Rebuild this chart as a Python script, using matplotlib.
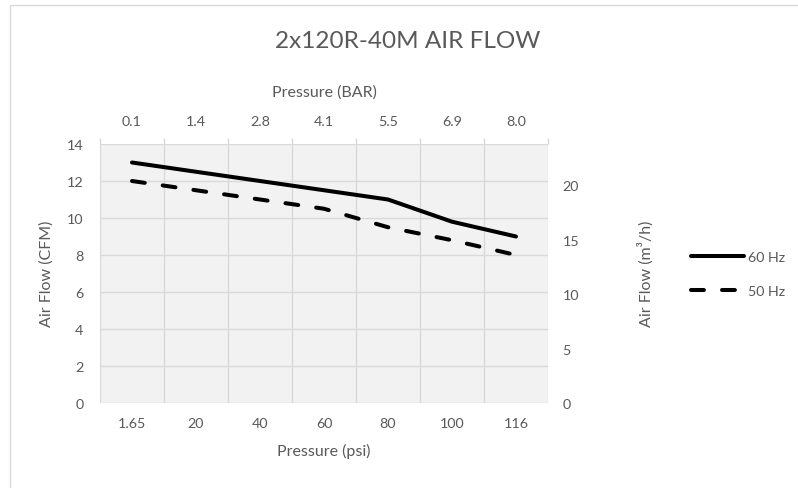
import numpy as np
import matplotlib.pyplot as plt
from matplotlib.patches import Rectangle

plt.rcParams['font.family'] = ['Lato', 'DejaVu Sans']

# data
psi_labels = ['1.65', '20', '40', '60', '80', '100', '116']
bar_labels = ['0.1', '1.4', '2.8', '4.1', '5.5', '6.9', '8.0']
flow_60hz = [13.0, 12.5, 12.0, 11.5, 11.0, 9.8, 9.0]
flow_50hz = [12.0, 11.5, 11.0, 10.5, 9.5, 8.8, 8.0]
cfm_to_m3h = 1.699

grey_text = '#595959'
grid_col = '#D9D9D9'
tick_fs = 10.3
lab_fs = 11.5

fig = plt.figure(figsize=(7.98, 4.89), dpi=100)
ax = fig.add_axes([100/798, 1 - 404/489, 448/798, 259/489])
ax.set_facecolor('#F2F2F2')

x = np.arange(len(psi_labels))
ax.plot(x, flow_60hz, color='black', lw=2.9, solid_capstyle='round', label='60 Hz')
ax.plot(x, flow_50hz, color='black', lw=2.9, dashes=(3.2, 4.5),
        dash_capstyle='round', label='50 Hz')

ax.set_xlim(-0.5, len(x) - 0.5)
ax.set_ylim(0, 14)
ax.set_yticks(range(0, 15, 2))
ax.set_xticks(x)
ax.set_xticklabels(psi_labels)
ax.set_xticks(np.arange(-0.5, len(x)), minor=True)
ax.grid(True, which='minor', axis='x', color=grid_col, lw=1)
ax.grid(True, which='major', axis='y', color=grid_col, lw=1)
ax.set_axisbelow(True)
for s in ax.spines.values():
    s.set_visible(False)
ax.tick_params(axis='both', which='both', length=0, colors=grey_text, labelsize=tick_fs)
ax.tick_params(axis='x', pad=10)
ax.tick_params(axis='y', pad=12)

# right axis in m3/h
ax2 = ax.twinx()
ax2.set_ylim(0, 14 * cfm_to_m3h)
ax2.set_yticks(range(0, 21, 5))
for s in ax2.spines.values():
    s.set_visible(False)
ax2.tick_params(axis='y', length=0, colors=grey_text, labelsize=tick_fs, pad=10.5)

# top axis in BAR
ax3 = ax.twiny()
ax3.set_xlim(ax.get_xlim())
ax3.set_xticks(x)
ax3.set_xticklabels(bar_labels)
ax3.set_xticks(np.arange(-0.5, len(x)), minor=True)
for s in ax3.spines.values():
    s.set_visible(False)
ax3.tick_params(axis='x', which='major', length=0, colors=grey_text, labelsize=tick_fs, pad=12)
ax3.tick_params(axis='x', which='minor', length=4.5, color=grid_col, width=1)

# titles
fig.text(408/798, 1 - 42/489, '2x120R-40M AIR FLOW', ha='center', va='center',
         color=grey_text, fontsize=17.5)
fig.text(324/798, 1 - 93/489, 'Pressure (BAR)', ha='center', va='center',
         color=grey_text, fontsize=lab_fs)
fig.text(324/798, 1 - 451/489, 'Pressure (psi)', ha='center', va='center',
         color=grey_text, fontsize=lab_fs)
fig.text(47/798, 1 - 274/489, 'Air Flow (CFM)', ha='center', va='center',
         rotation=90, color=grey_text, fontsize=lab_fs)
fig.text(646/798, 1 - 274/489, 'Air Flow (m³/h)', ha='center', va='center',
         rotation=90, color=grey_text, fontsize=lab_fs)

leg = ax.legend(loc='center left', bbox_to_anchor=(678/798, 1 - 275/489),
                bbox_transform=fig.transFigure, frameon=False, fontsize=tick_fs,
                handlelength=3.7, handletextpad=0.3, labelspacing=1.5)
for t in leg.get_texts():
    t.set_color(grey_text)

fig.patches.append(Rectangle((9.5/798, -0.1), 1, 1.1 - 5.5/489, transform=fig.transFigure,
                             fill=False, edgecolor=grid_col, lw=1))

fig.savefig('out.png', dpi=100)
